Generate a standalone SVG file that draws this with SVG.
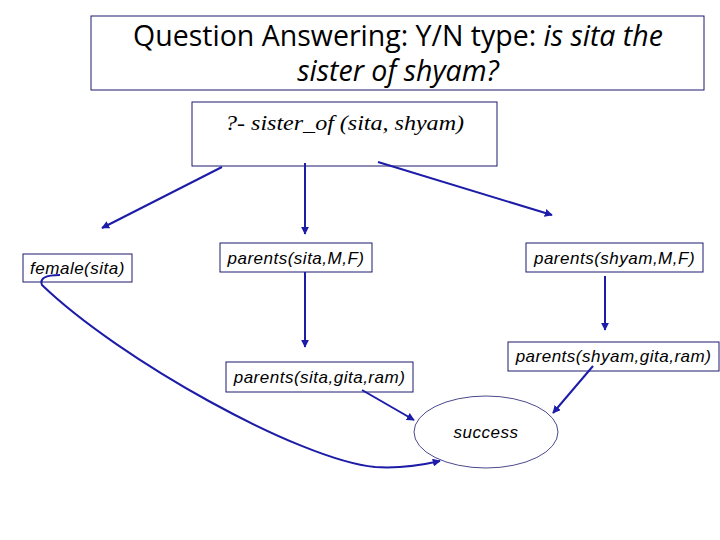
<svg xmlns="http://www.w3.org/2000/svg" width="720" height="540" viewBox="0 0 720 540">
<defs>
<style>
.box{fill:#fff;stroke:#1a1a6e;stroke-width:1}
.lbl{font-family:"Liberation Sans",Arial,sans-serif;font-style:italic;font-size:17px;letter-spacing:0.5px;fill:#000}
.con{fill:none;stroke:#1c1ca8;stroke-width:2}
</style>
<marker id="ah" viewBox="0 0 10 10" refX="9" refY="5" markerWidth="4" markerHeight="4" orient="auto" markerUnits="strokeWidth">
<path d="M0,0 L10,5 L0,10 z" fill="#1c1ca8"/>
</marker>
</defs>
<rect width="720" height="540" fill="#fff"/>
<g id="title">
<rect x="91" y="16" width="613" height="74" fill="#fff" stroke="#1a1a6e" stroke-width="1"/>
<text x="398" y="46" text-anchor="middle" font-family="'Open Sans',sans-serif" font-size="28.5">Question Answering: Y/N type: <tspan font-style="italic">is sita the</tspan></text>
<text x="398" y="81" text-anchor="middle" font-family="'Open Sans',sans-serif" font-size="28.5" font-style="italic">sister of shyam?</text>
</g>
<g id="query">
<rect class="box" x="192" y="102" width="305" height="64"/>
<text x="225" y="130" textLength="239" lengthAdjust="spacingAndGlyphs" font-family="'Liberation Serif',serif" font-style="italic" font-size="22">?- sister_of (sita, shyam)</text>
</g>
<g id="female">
<rect class="box" x="23" y="254" width="109" height="28"/>
<text class="lbl" x="77.5" y="274" text-anchor="middle">female(sita)</text>
</g>
<g id="parents-sita-MF">
<rect class="box" x="220" y="243" width="152" height="29"/>
<text class="lbl" x="296" y="264" text-anchor="middle">parents(sita,M,F)</text>
</g>
<g id="parents-shyam-MF">
<rect class="box" x="526" y="243" width="177" height="29"/>
<text class="lbl" x="614.5" y="264" text-anchor="middle">parents(shyam,M,F)</text>
</g>
<g id="parents-sita-gita-ram">
<rect class="box" x="226" y="362" width="187" height="30"/>
<text class="lbl" x="319.5" y="383" text-anchor="middle">parents(sita,gita,ram)</text>
</g>
<g id="parents-shyam-gita-ram">
<rect class="box" x="508" y="342" width="211" height="29"/>
<text class="lbl" x="613.5" y="362" text-anchor="middle">parents(shyam,gita,ram)</text>
</g>
<g id="success">
<ellipse cx="486" cy="432" rx="72" ry="36" fill="#fff" stroke="#1a1a6e" stroke-width="0.8"/>
<text class="lbl" x="486" y="438" text-anchor="middle">success</text>
</g>
<g id="connectors">
<line class="con" x1="222" y1="167" x2="102" y2="228" marker-end="url(#ah)"/>
<line class="con" x1="305" y1="163" x2="305" y2="234" marker-end="url(#ah)"/>
<line class="con" x1="378" y1="162" x2="552" y2="215" marker-end="url(#ah)"/>
<line class="con" x1="305" y1="272" x2="305" y2="347" marker-end="url(#ah)"/>
<line class="con" x1="605" y1="276" x2="605" y2="330" marker-end="url(#ah)"/>
<line class="con" x1="362" y1="390" x2="414" y2="420" marker-end="url(#ah)"/>
<line class="con" x1="593" y1="366" x2="553" y2="413" marker-end="url(#ah)"/>
<path class="con" d="M60 275 Q38 275 42 285 C120 360 300 460 375 467 Q405 469 440 461" marker-end="url(#ah)"/>
</g>
</svg>
